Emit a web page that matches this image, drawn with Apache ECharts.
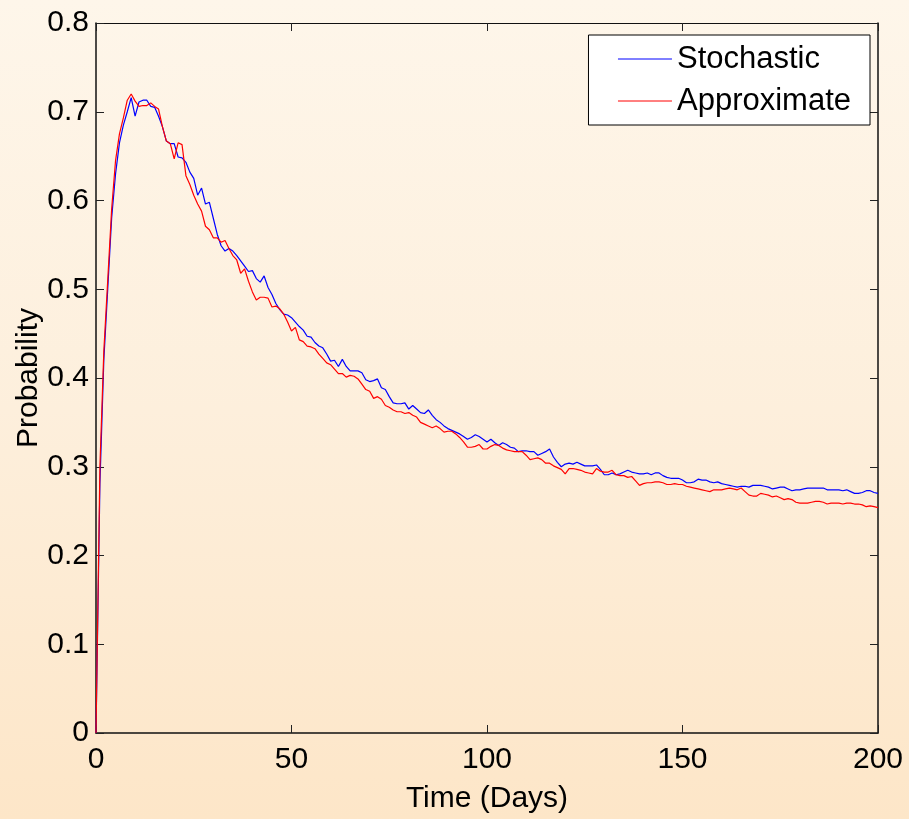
<!DOCTYPE html>
<html>
<head>
<meta charset="utf-8">
<script src="https://cdn.jsdelivr.net/npm/echarts@6/dist/echarts.min.js"></script>
<style>
html,body{margin:0;padding:0;width:909px;height:819px;overflow:hidden;
background:linear-gradient(to bottom,#fef6ea 0%,#fdefdc 50%,#fde6c8 100%);}
#c{width:909px;height:819px;}
</style>
</head>
<body>
<div id="c"></div>
<script>
// Day index 0..200 (one value per day)
const stochastic = [
0,0.28,0.42,0.50,0.58,0.63,0.665,0.685,0.70,0.716,
0.695,0.711,0.713,0.713,0.706,0.705,0.695,0.683,0.667,0.664,
0.664,0.649,0.648,0.643,0.632,0.625,0.606,0.614,0.596,0.598,
0.580,0.562,0.549,0.543,0.546,0.543,0.538,0.532,0.526,0.520,
0.521,0.512,0.508,0.515,0.502,0.494,0.484,0.477,0.472,0.471,
0.468,0.463,0.458,0.454,0.447,0.446,0.440,0.436,0.434,0.427,
0.419,0.420,0.413,0.421,0.413,0.408,0.408,0.408,0.406,0.398,
0.396,0.397,0.399,0.389,0.387,0.379,0.372,0.371,0.371,0.372,
0.365,0.369,0.365,0.361,0.360,0.364,0.358,0.353,0.350,0.346,
0.343,0.341,0.339,0.337,0.334,0.331,0.333,0.336,0.334,0.331,
0.328,0.331,0.327,0.324,0.327,0.325,0.322,0.321,0.317,0.318,
0.318,0.317,0.317,0.313,0.315,0.317,0.320,0.311,0.305,0.300,
0.303,0.304,0.303,0.305,0.303,0.301,0.301,0.301,0.302,0.297,
0.291,0.291,0.293,0.291,0.292,0.294,0.296,0.294,0.293,0.292,
0.292,0.293,0.291,0.293,0.293,0.290,0.288,0.287,0.287,0.287,
0.285,0.282,0.282,0.283,0.286,0.285,0.285,0.283,0.282,0.283,
0.281,0.280,0.279,0.278,0.277,0.278,0.278,0.277,0.279,0.279,
0.279,0.278,0.277,0.275,0.276,0.277,0.277,0.275,0.273,0.274,
0.274,0.275,0.276,0.276,0.276,0.276,0.276,0.274,0.274,0.274,
0.274,0.273,0.274,0.272,0.270,0.270,0.271,0.273,0.273,0.271,
0.270];
const approximate = [
0,0.30,0.43,0.51,0.59,0.645,0.675,0.693,0.713,0.720,
0.712,0.706,0.707,0.707,0.710,0.706,0.703,0.683,0.667,0.664,
0.647,0.665,0.663,0.628,0.618,0.606,0.596,0.588,0.571,0.567,
0.558,0.558,0.553,0.555,0.546,0.538,0.533,0.518,0.523,0.509,
0.497,0.488,0.491,0.491,0.490,0.480,0.481,0.478,0.472,0.463,
0.453,0.457,0.443,0.441,0.436,0.435,0.433,0.427,0.422,0.417,
0.415,0.410,0.405,0.405,0.401,0.403,0.402,0.399,0.393,0.387,
0.385,0.377,0.379,0.376,0.369,0.367,0.364,0.362,0.362,0.360,
0.361,0.358,0.356,0.350,0.348,0.346,0.344,0.346,0.343,0.339,
0.340,0.340,0.337,0.333,0.328,0.322,0.322,0.323,0.325,0.320,
0.320,0.323,0.325,0.324,0.321,0.319,0.318,0.317,0.317,0.317,
0.313,0.308,0.309,0.310,0.308,0.304,0.304,0.301,0.299,0.297,
0.292,0.298,0.298,0.297,0.296,0.294,0.293,0.292,0.298,0.295,
0.294,0.294,0.296,0.291,0.290,0.290,0.288,0.289,0.284,0.279,
0.281,0.282,0.282,0.283,0.283,0.282,0.280,0.280,0.281,0.280,
0.280,0.278,0.277,0.276,0.275,0.274,0.273,0.272,0.274,0.274,
0.274,0.275,0.276,0.275,0.274,0.276,0.272,0.268,0.267,0.267,
0.270,0.269,0.268,0.266,0.267,0.265,0.263,0.264,0.263,0.260,
0.259,0.259,0.259,0.260,0.261,0.261,0.260,0.258,0.259,0.259,
0.259,0.258,0.259,0.259,0.258,0.258,0.257,0.255,0.256,0.255,
0.254];
const seriesNames = ['Stochastic', 'Approximate'];
const xTicks = [0, 50, 100, 150, 200];
const yTicks = [0, 0.1, 0.2, 0.3, 0.4, 0.5, 0.6, 0.7, 0.8];
const xTitle = 'Time (Days)';
const yTitle = 'Probability';

const toPairs = arr => arr.map((v, i) => [i, v]);
const font = 'Liberation Sans, Arial, Helvetica, sans-serif';
const tickStyle = {show: true, inside: true, length: 8, lineStyle: {color: '#222', width: 1}};
const lineStyle = {show: true, onZero: false, lineStyle: {color: '#111', width: 1.5}};

const chart = echarts.init(document.getElementById('c'), null, {renderer: 'canvas'});
chart.setOption({
  backgroundColor: 'transparent',
  animation: false,
  grid: {left: 96, top: 23, right: 31, bottom: 86, show: false},
  legend: {
    right: 39, top: 35, orient: 'vertical',
    backgroundColor: '#ffffff', borderColor: '#000', borderWidth: 1, borderRadius: 0,
    padding: [8, 19, 8, 29],
    itemWidth: 54, itemHeight: 32, itemGap: 10, itemTextGap: 28,
    itemStyle: {opacity: 0},
    lineStyle: {width: 1, opacity: 1},
    textStyle: {fontFamily: font, fontSize: 31, color: '#000', lineHeight: 32},
    data: seriesNames
  },
  xAxis: [{
    type: 'value', min: xTicks[0], max: xTicks[xTicks.length - 1], interval: 50,
    position: 'bottom',
    name: xTitle, nameLocation: 'middle', nameGap: 51, nameMoveOverlap: false,
    nameTextStyle: {fontFamily: font, fontSize: 30, color: '#000', verticalAlign: 'top'},
    axisLine: lineStyle, axisTick: tickStyle, splitLine: {show: false},
    axisLabel: {fontFamily: font, fontSize: 30, color: '#000', margin: 12}
  }, {
    type: 'value', min: xTicks[0], max: xTicks[xTicks.length - 1], interval: 50,
    position: 'top',
    axisLine: {show: true, onZero: false, lineStyle: {color: '#111', width: 1}}, axisTick: tickStyle,
    splitLine: {show: false}, axisLabel: {show: false}
  }],
  yAxis: [{
    type: 'value', min: yTicks[0], max: yTicks[yTicks.length - 1], interval: 0.1,
    position: 'left',
    name: yTitle, nameLocation: 'middle', nameGap: 52, nameRotate: 90, nameMoveOverlap: false,
    nameTextStyle: {fontFamily: font, fontSize: 30, color: '#000'},
    axisLine: lineStyle, axisTick: tickStyle, splitLine: {show: false},
    axisLabel: {fontFamily: font, fontSize: 30, color: '#000', margin: 7,
      formatter: v => (Math.round(v * 10) / 10).toString()}
  }, {
    type: 'value', min: yTicks[0], max: yTicks[yTicks.length - 1], interval: 0.1,
    position: 'right',
    axisLine: {show: true, onZero: false, lineStyle: {color: '#111', width: 1.5}}, axisTick: tickStyle,
    splitLine: {show: false}, axisLabel: {show: false}
  }],
  series: [{
    name: seriesNames[0], type: 'line', data: toPairs(stochastic),
    xAxisIndex: 0, yAxisIndex: 0, symbol: 'none', showSymbol: false,
    lineStyle: {color: '#0000ff', width: 1.2}, itemStyle: {color: '#0000ff'}
  }, {
    name: seriesNames[1], type: 'line', data: toPairs(approximate),
    xAxisIndex: 0, yAxisIndex: 0, symbol: 'none', showSymbol: false,
    lineStyle: {color: '#ff0000', width: 1.2}, itemStyle: {color: '#ff0000'}
  }]
});
</script>
</body>
</html>
